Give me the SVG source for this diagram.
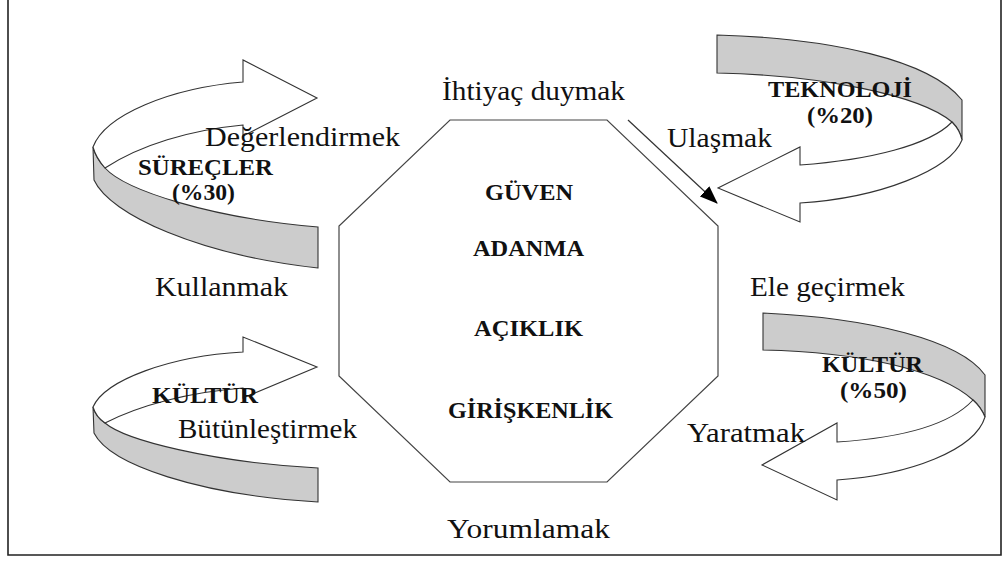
<svg xmlns="http://www.w3.org/2000/svg" width="1004" height="562" viewBox="0 0 1004 562">
<defs>
<style>
.frame{fill:none;stroke:#222;stroke-width:1.6}
.oct{fill:#fff;stroke:#444;stroke-width:1.2}
.face{fill:#fff;stroke:#333;stroke-width:1.1;stroke-linejoin:miter}
.band{fill:#cccccc;stroke:#333;stroke-width:1.1}
.conn{fill:none;stroke:#333;stroke-width:1.2}
.lbl{font-family:"Liberation Serif","Times New Roman",serif;font-size:27px;fill:#111}
.bld{font-family:"Liberation Serif","Times New Roman",serif;font-size:23px;font-weight:bold;fill:#111}
.cen{font-family:"Liberation Serif","Times New Roman",serif;font-size:24px;font-weight:bold;fill:#111}
</style>
<marker id="ah" viewBox="0 0 18 14" refX="17" refY="7" markerWidth="18" markerHeight="14" markerUnits="userSpaceOnUse" orient="auto">
<path d="M0,0 L18,7 L0,14 Z" fill="#000"/>
</marker>
</defs>
<rect x="0" y="0" width="1004" height="562" fill="#fff"/>
<path class="frame" d="M8,0 L8,555 L1001,555 L1001,0"/>

<g id="surecler-arrow">
<path class="band" d="M93,147 L94,180 C110,215 200,255 318,268 L318,227 C210,218 125,190 105,168 Q96,158 93,147 Z"/>
<path class="face" d="M105,168 C140,145 190,130 243,125 L243,136 L317,98 L243,60 L243,82 C170,88 105,115 93,147 Q96,158 105,168 Z"/>
<text class="bld" x="138" y="175" textLength="135" lengthAdjust="spacingAndGlyphs">SÜREÇLER</text>
<text class="bld" x="172" y="200" textLength="63" lengthAdjust="spacingAndGlyphs">(%30)</text>
</g>

<g id="kultur-left-arrow">
<path class="band" d="M93,407 L94,433 C110,465 200,495 318,502 L318,468 C210,462 125,440 105,423 Q96,417 93,407 Z"/>
<path class="face" d="M105,423 C140,405 190,392 243,388 L243,398 L317,367 L243,337 L243,352 C170,356 105,380 93,407 Q96,417 105,423 Z"/>
<text class="bld" x="152" y="403" textLength="106" lengthAdjust="spacingAndGlyphs">KÜLTÜR</text>
</g>

<g id="teknoloji-arrow">
<path class="band" d="M717,35 C830,38 930,60 962,100 L962,140 Q960,130 952,122 C920,95 820,75 717,73 Z"/>
<path class="face" d="M952,122 C930,145 870,160 800,165 L800,147 L718,188 L800,222 L800,203 C880,198 950,170 962,140 Q960,130 952,122 Z"/>
<text class="bld" x="768" y="97" textLength="144" lengthAdjust="spacingAndGlyphs">TEKNOLOJİ</text>
<text class="bld" x="807" y="123" textLength="66" lengthAdjust="spacingAndGlyphs">(%20)</text>
</g>

<g id="kultur-right-arrow">
<path class="band" d="M763,313 C870,318 960,340 985,375 L985,417 Q981,407 973,400 C940,370 860,352 763,350 Z"/>
<path class="face" d="M973,400 C950,425 900,438 837,442 L837,423 L762,465 L837,500 L837,480 C910,475 975,450 985,417 Q981,407 973,400 Z"/>
<text class="bld" x="822" y="372" textLength="101" lengthAdjust="spacingAndGlyphs">KÜLTÜR</text>
<text class="bld" x="840" y="398" textLength="67" lengthAdjust="spacingAndGlyphs">(%50)</text>
</g>

<g id="octagon">
<polygon class="oct" points="450,120 607,120 718,226 718,376 607,482 450,482 339,376 339,226"/>
<text class="cen" x="485" y="200" textLength="88" lengthAdjust="spacingAndGlyphs">GÜVEN</text>
<text class="cen" x="473" y="256" textLength="111" lengthAdjust="spacingAndGlyphs">ADANMA</text>
<text class="cen" x="474" y="336" textLength="109" lengthAdjust="spacingAndGlyphs">AÇIKLIK</text>
<text class="cen" x="448" y="418" textLength="165" lengthAdjust="spacingAndGlyphs">GİRİŞKENLİK</text>
</g>

<g id="connectors">
<line class="conn" x1="628" y1="120" x2="717" y2="203" marker-end="url(#ah)"/>
</g>

<g id="labels">
<text class="lbl" x="442" y="100" textLength="183" lengthAdjust="spacingAndGlyphs">İhtiyaç duymak</text>
<text class="lbl" x="205" y="146" textLength="195" lengthAdjust="spacingAndGlyphs">Değerlendirmek</text>
<text class="lbl" x="667" y="147" textLength="105" lengthAdjust="spacingAndGlyphs">Ulaşmak</text>
<text class="lbl" x="155" y="296" textLength="133" lengthAdjust="spacingAndGlyphs">Kullanmak</text>
<text class="lbl" x="750" y="296" textLength="155" lengthAdjust="spacingAndGlyphs">Ele geçirmek</text>
<text class="lbl" x="178" y="438" textLength="179" lengthAdjust="spacingAndGlyphs">Bütünleştirmek</text>
<text class="lbl" x="687" y="442" textLength="118" lengthAdjust="spacingAndGlyphs">Yaratmak</text>
<text class="lbl" x="447" y="538" textLength="163" lengthAdjust="spacingAndGlyphs">Yorumlamak</text>
</g>
</svg>
